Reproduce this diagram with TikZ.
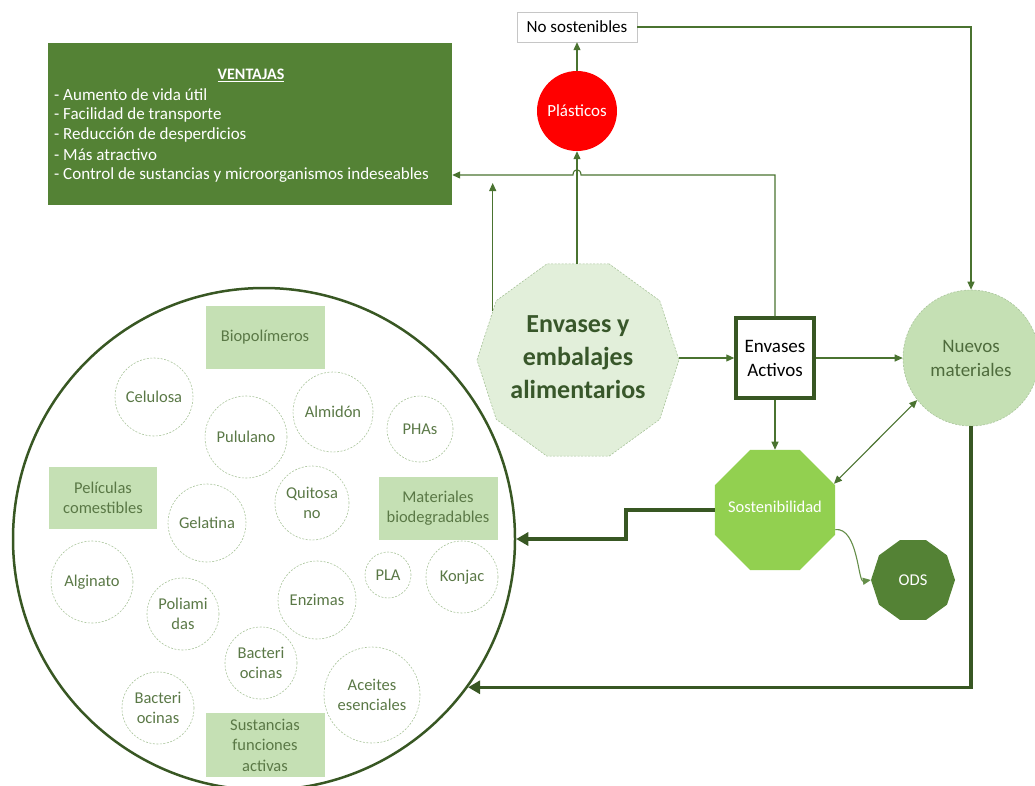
\documentclass[tikz,border=0pt]{standalone}
\usepackage{fontspec}
\setmainfont{Carlito}
\usetikzlibrary{shapes.geometric,arrows.meta}
\definecolor{dkg}{HTML}{548235}
\definecolor{lng}{HTML}{4A7330}
\definecolor{thk}{HTML}{385723}
\definecolor{lgA}{HTML}{E2EFDA}
\definecolor{lgB}{HTML}{C5E0B4}
\definecolor{sgr}{HTML}{92D050}
\definecolor{txg}{HTML}{5A7846}
\definecolor{dsh}{HTML}{A9C49B}
\definecolor{ttl}{HTML}{38572A}
\definecolor{nmt}{HTML}{4E6B3C}
\begin{document}
\begin{tikzpicture}[x=1pt,y=-1pt,
  bub/.style={circle,draw=dsh,dash pattern=on 2pt off 1.5pt,line width=0.6pt,minimum size=#1,inner sep=0pt,align=center,text=txg,font=\fontsize{16.5}{20.5}\selectfont},
  lab/.style={fill=lgB,align=center,text=txg,font=\fontsize{16.5}{20.5}\selectfont,inner sep=0pt},
  arr/.style={draw=lng,line width=1.1pt,-{Triangle[length=8pt,width=7pt]}},
  darr/.style={draw=lng,line width=1.1pt,{Triangle[length=8pt,width=7pt]}-{Triangle[length=8pt,width=7pt]}},
  tarr/.style={draw=thk,line width=3.5pt,-{Triangle[length=12pt,width=13pt]}},
  vline/.style={anchor=west,inner sep=0pt,text=white,font=\fontsize{17}{20}\selectfont}
]
\useasboundingbox (0,0) rectangle (1035,785);
% big circle
\node[circle,draw=thk,line width=2.5pt,minimum size=502pt,inner sep=0pt] (BC) at (264,539) {};
\node[lab,minimum width=119pt,minimum height=63pt] (bio) at (265,337) {Biopolímeros};
\node[lab,minimum width=108pt,minimum height=62pt] (pel) at (103,498) {Películas\\comestibles};
\node[lab,minimum width=119pt,minimum height=63pt] (mat) at (438,508) {Materiales\\biodegradables};
\node[lab,minimum width=119pt,minimum height=64pt] (sus) at (265,745) {Sustancias\\funciones\\activas};
\node[bub=78pt] (c1) at (154,397) {Celulosa};
\node[bub=82pt] (c2) at (246,437) {Pululano};
\node[bub=80pt] (c3) at (333,412) {Almidón};
\node[bub=66pt] (c4) at (420,429) {PHAs};
\node[bub=78pt] (c5) at (207,523) {Gelatina};
\node[bub=74pt] (c6) at (312,503) {Quitosa\\no};
\node[bub=82pt] (c7) at (92,582) {Alginato};
\node[bub=72pt] (c8) at (183,614) {Poliami\\das};
\node[bub=78pt] (c9) at (317,600) {Enzimas};
\node[bub=46pt] (c10) at (388,575) {PLA};
\node[bub=72pt] (c11) at (462,577) {Konjac};
\node[bub=72pt] (c12) at (261,663) {Bacteri\\ocinas};
\node[bub=96pt] (c13) at (372,695) {Aceites\\esenciales};
\node[bub=72pt] (c14) at (158,708) {Bacteri\\ocinas};
% ventajas
\node[fill=dkg,minimum width=404pt,minimum height=162pt,inner sep=0pt] (V) at (250,124) {};
\node[text=white,inner sep=0pt,font=\bfseries\fontsize{16}{19}\selectfont] (vt) at (251,75) {\underline{VENTAJAS}};
\node[vline] (v1) at (54,95) {- Aumento de vida útil};
\node[vline] (v2) at (54,115) {- Facilidad de transporte};
\node[vline] (v3) at (54,135) {- Reducción de desperdicios};
\node[vline] (v4) at (54,155) {- Más atractivo};
\node[vline] (v5) at (54,175) {- Control de sustancias y microorganismos indeseables};
% main nodes
\node[regular polygon,regular polygon sides=10,minimum size=202pt,inner sep=0pt,fill=lgA,draw=dsh,dash pattern=on 2pt off 1.5pt,line width=0.6pt] (E) at (578,360) {};
\node[text=ttl,font=\bfseries\fontsize{26}{33}\selectfont,align=center,inner sep=0pt] (Et) at (578,357) {Envases y\\embalajes\\alimentarios};
\node[circle,fill=red,minimum size=80pt,inner sep=0pt,text=white,font=\fontsize{17}{20}\selectfont] (P) at (577,111) {Plásticos};
\node[draw=gray!45,fill=white,minimum width=120pt,minimum height=30pt,inner sep=0pt,font=\fontsize{17}{20}\selectfont] (NS) at (577,27) {No sostenibles};
\node[draw=thk,line width=3.5pt,fill=white,minimum width=78pt,minimum height=80pt,inner sep=0pt,align=center,font=\fontsize{19}{24}\selectfont] (EA) at (775,358) {Envases\\Activos};
\node[circle,fill=lgB,draw=dsh,dash pattern=on 2pt off 1.5pt,line width=0.6pt,minimum size=136pt,inner sep=0pt,text=nmt,align=center,font=\fontsize{19}{24}\selectfont] (NM) at (971,358) {Nuevos\\materiales};
\node[regular polygon,regular polygon sides=8,minimum size=130pt,inner sep=0pt,fill=sgr] (S) at (775,510) {};
\node[text=white,inner sep=0pt,font=\fontsize{16.5}{20}\selectfont] (St) at (775,507) {Sostenibilidad};
\node[regular polygon,regular polygon sides=10,minimum size=84pt,inner sep=0pt,fill=dkg] (O) at (913,580) {};
\node[text=white,inner sep=0pt,font=\fontsize{16.5}{20}\selectfont] (Ot) at (913,580) {ODS};
% connectors
\coordinate (h1) at (577,175);
\coordinate (a1) at (0,183);
\draw[arr] (P.north) -- (NS.south);
\draw[arr] (E.north -| P.south) -- (P.south);
\draw[arr] (NS.east) -| (NM.north);
\draw[arr] (E.east |- EA.west) -- (EA.west);
\draw[arr] (EA.east) -- (NM.west);
\draw[arr] (EA.south) -- (S.north);
\draw[arr] (EA.north) |- ([xshift=4pt]h1) .. controls ([xshift=4pt,yshift=7pt]h1) and ([xshift=-4pt,yshift=7pt]h1) .. ([xshift=-4pt]h1) -- (V.east |- h1);
\draw[arr] (E.150) -- (E.150 |- a1);
\draw[darr] (S.24) -- (NM.218);
\draw[arr,draw=dkg!90] (S.-18) .. controls (858,527) and (858,582) .. (O.west);
\draw[tarr] (S.west) -- ++(-89,0) |- (BC.east);
\draw[tarr] (NM.south) |- (BC.-36);
\end{tikzpicture}
\end{document}
